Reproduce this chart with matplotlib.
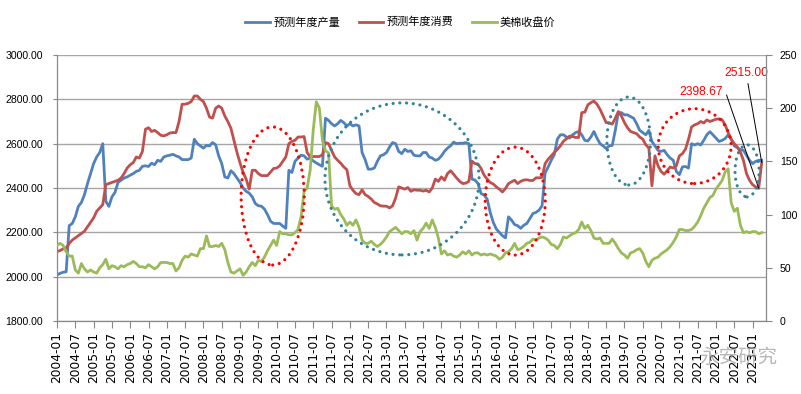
import numpy as np
import pandas as pd
import matplotlib
matplotlib.use("Agg")
import matplotlib.pyplot as plt
import matplotlib.transforms as mtransforms
from matplotlib import font_manager
from matplotlib.patches import Ellipse

# monthly values, 2004-01 .. 2023-04
production = [
    2008, 2015, 2020, 2022, 2230, 2240, 2270, 2317, 2335, 2370,
    2420, 2465, 2510, 2540, 2560, 2600, 2340, 2317, 2360, 2380,
    2425, 2435, 2445, 2450, 2458, 2465, 2475, 2480, 2498, 2500,
    2497, 2512, 2505, 2525, 2520, 2540, 2545, 2548, 2552,
    2545, 2540, 2528, 2528, 2528, 2535, 2620, 2600, 2590, 2580,
    2592, 2590, 2605, 2595, 2545, 2510, 2450, 2445, 2478, 2465,
    2445, 2425, 2400, 2385, 2377, 2360, 2330, 2320, 2318, 2305,
    2280, 2250, 2240, 2240, 2240, 2228, 2218, 2480,
    2470, 2520, 2535, 2548, 2545, 2530, 2535, 2522, 2513, 2505, 2498,
    2715, 2705, 2690, 2680, 2690, 2705, 2695, 2680, 2690, 2680, 2685, 2680,
    2560, 2528, 2485, 2485, 2490, 2520, 2545, 2550, 2560, 2585, 2605, 2600, 2565, 2555, 2575,
    2565, 2568, 2548, 2545, 2545, 2560, 2560, 2540, 2535, 2525, 2530,
    2545, 2565, 2580, 2590, 2607, 2600, 2602, 2602, 2605, 2600,
    2440, 2436, 2420, 2375, 2368, 2350, 2290, 2245, 2215, 2200, 2185, 2175, 2270, 2255, 2235, 2230,
    2218, 2232, 2240, 2262, 2285, 2290, 2300, 2320, 2468, 2495, 2525, 2550,
    2620, 2640, 2640, 2630, 2625, 2640, 2650, 2655, 2640, 2615, 2612, 2630,
    2655, 2625, 2600, 2590, 2578, 2590, 2592, 2660, 2740, 2740, 2730, 2730,
    2722, 2715, 2690, 2660, 2650, 2640, 2660, 2610, 2590, 2570, 2565, 2570,
    2550, 2535, 2525, 2475, 2460, 2495, 2497, 2490, 2600, 2594, 2600, 2594,
    2615, 2640, 2654, 2640, 2625, 2610, 2615, 2623, 2640, 2620, 2590, 2582,
    2573, 2570, 2548, 2525, 2510, 2520, 2525, 2525,
]

consumption = [
    2113, 2118, 2125, 2130, 2150, 2165, 2175, 2185, 2195, 2205,
    2225, 2245, 2265, 2295, 2310, 2325, 2415, 2420, 2425, 2430,
    2435, 2445, 2465, 2490, 2505, 2515, 2540, 2535, 2565, 2665,
    2672, 2655, 2660, 2650, 2638, 2635, 2640, 2648, 2650,
    2650, 2700, 2778, 2778, 2782, 2790, 2815, 2815, 2800, 2790,
    2760, 2720, 2715, 2760, 2770, 2760, 2725, 2700, 2670, 2615,
    2560, 2513, 2470, 2440, 2395, 2480, 2480, 2465, 2456, 2456,
    2456, 2472, 2488, 2490, 2500, 2520, 2540, 2600,
    2610, 2615, 2630, 2630, 2632, 2560, 2540, 2542, 2542, 2542, 2550,
    2605, 2600, 2570, 2540, 2525, 2512, 2495, 2483, 2410, 2390, 2375, 2370,
    2392, 2370, 2362, 2350, 2335, 2328, 2320, 2318, 2318, 2310, 2320, 2355, 2405, 2400, 2395,
    2402, 2385, 2392, 2390, 2390, 2386, 2390, 2382, 2400, 2440, 2430,
    2450, 2435, 2465, 2478, 2462, 2445, 2430, 2420, 2422, 2430,
    2521, 2510, 2508, 2488, 2458, 2440, 2425, 2418, 2405, 2395, 2382, 2398, 2420, 2428, 2435, 2420,
    2430, 2436, 2437, 2434, 2434, 2446, 2446, 2448, 2510, 2530, 2545, 2560,
    2574, 2590, 2611, 2622, 2634, 2632, 2628, 2628, 2740, 2742, 2775, 2785,
    2792, 2778, 2755, 2725, 2695, 2694, 2688, 2715, 2745, 2725, 2695, 2672,
    2655, 2650, 2645, 2630, 2620, 2595, 2580, 2410, 2545, 2500, 2475, 2462,
    2478, 2495, 2490, 2500, 2545, 2555, 2575, 2620, 2675, 2685, 2690, 2700,
    2693, 2707, 2700, 2705, 2710, 2712, 2708, 2685, 2650, 2620, 2600, 2585,
    2562, 2525, 2465, 2435, 2415, 2405, 2398.67, 2515.00,
]

cotton = [
    71, 73, 71, 65, 61, 61, 48, 45, 54, 49,
    46, 48, 46, 45, 50, 53, 58, 49, 52, 51,
    49, 52, 51, 53, 54, 56, 54, 51, 51, 50,
    53, 51, 49, 51, 55, 55, 55, 54, 54,
    47, 50, 57, 61, 60, 63, 62, 61, 68, 68,
    80, 70, 70, 71, 70, 73, 67, 55, 46, 45,
    47, 49, 43, 46, 51, 55, 52, 57, 56, 60,
    66, 71, 76, 71, 84, 82, 82, 81,
    81, 83, 86, 98, 122, 125, 142, 180, 206, 200, 170,
    160, 158, 108, 105, 106, 100, 96, 90, 93, 90, 95, 88,
    76, 73, 73, 75, 72, 70, 72, 75, 79, 84, 86, 88, 85, 82, 84,
    84, 82, 85, 76, 84, 87, 92, 87, 95, 88, 78,
    63, 66, 62, 63, 61, 60, 62, 65, 63, 66,
    62, 64, 64, 62, 63, 62, 63, 62, 61, 58, 60, 64, 65, 68, 73, 67,
    68, 70, 73, 74, 77, 76, 78, 79, 78, 76, 72, 71,
    68, 72, 79, 78, 80, 82, 83, 86, 93, 87, 90, 85,
    78, 77, 78, 73, 73, 73, 77, 73, 68, 64, 62, 59,
    64, 65, 67, 68, 64, 56, 51, 57, 59, 60, 63, 65,
    67, 70, 74, 79, 86, 86, 85, 85, 86, 89, 93, 99,
    106, 111, 116, 118, 124, 128, 132, 140, 143, 111, 103, 106,
    90, 83, 84, 83, 84, 84, 82, 83,
]

months = pd.date_range("2004-01-01", periods=len(production), freq="MS")
tick_labels = [d.strftime("%Y-%m") for d in months[::6]]

# dotted rings drawn on the chart: (month idx, value, width, height, colour)
RED = "#FF0000"
TEAL = "#31849B"
rings = [
    (70.7, 2364, 20.7, 623, RED),
    (113.1, 2441, 50.5, 686, TEAL),
    (150.2, 2341, 19.7, 487, RED),
    (187.4, 2612, 14.3, 397, TEAL),
    (209.0, 2589, 23.9, 338, RED),
    (226.2, 2477, 7.9, 235, TEAL),
]

installed = {f.name for f in font_manager.fontManager.ttflist}
has_narrow = "Liberation Sans Narrow" in installed
narrow = "Liberation Sans Narrow" if has_narrow else "Liberation Sans"
k = 1.0 if has_narrow else 0.82

plt.rcParams["font.family"] = ["Noto Sans CJK SC", "DejaVu Sans"]

fig = plt.figure(figsize=(8.01, 3.94), dpi=100)
ax = fig.add_axes([57 / 801, 1 - 321 / 394, (766 - 57) / 801, (321 - 55) / 394])
ax2 = ax.twinx()

x = np.arange(len(production))
l1, = ax.plot(x, production, color="#4F81BD", lw=2.0, label="预测年度产量", zorder=3)
l2, = ax.plot(x, consumption, color="#C0504D", lw=2.0, label="预测年度消费", zorder=3)
l3, = ax2.plot(x, cotton, color="#9BBB59", lw=2.0, label="美棉收盘价", zorder=3)

for cx, cy, w, h, c in rings:
    e = Ellipse((cx, cy), w, h, fill=False, edgecolor=c, lw=2.3,
                linestyle=(0, (0.01, 2.1)), zorder=6)
    e.set_capstyle("round")
    ax2.add_patch(e)
    e.set_transform(ax.transData)

ax.set_xlim(0, 232.4)
ax.set_ylim(1800, 3000)
ax2.set_ylim(0, 250)
ax.set_yticks(np.arange(1800, 3001, 200))
ax.set_yticklabels([f"{v:.2f}" for v in np.arange(1800, 3001, 200)])
ax2.set_yticks(np.arange(0, 251, 50))
ax.set_xticks(x[::6])
ax.set_xticklabels(tick_labels, rotation=90, fontsize=8.8, family="DejaVu Sans")
shift = mtransforms.ScaledTranslation(2.5 / 100, 0, fig.dpi_scale_trans)
for t in ax.get_xticklabels():
    t.set_transform(t.get_transform() + shift)

for t in ax.get_yticklabels():
    t.set_family(narrow)
    t.set_fontsize(9.2 * k)
for t in ax2.get_yticklabels():
    t.set_family(narrow)
    t.set_fontsize(9.2 * k)

ax.grid(axis="y", color="#A6A6A6", lw=1.0)
ax.set_axisbelow(True)
for a in (ax, ax2):
    a.spines["top"].set_visible(False)
    for s in ("left", "right", "bottom"):
        a.spines[s].set_color("#888888")
ax.tick_params(axis="y", length=3, color="#888888", pad=7)
ax.tick_params(axis="x", length=5, color="#888888", pad=3)
ax2.tick_params(axis="y", length=4, color="#888888", pad=6)

# value labels at the last two consumption points
ax.annotate(f"{consumption[-2]:.2f}", xy=(x[-2], consumption[-2]), xytext=(218.4, 2833),
            ha="right", va="center", color=RED, fontsize=10.5 * k, family=narrow,
            arrowprops=dict(arrowstyle="-", color="black", lw=0.7, shrinkA=1, shrinkB=0,
                            connectionstyle="angle,angleA=0,angleB=109,rad=0"),
            zorder=7)
ax.annotate(f"{consumption[-1]:.2f}", xy=(x[-1], consumption[-1]), xytext=(225.9, 2917),
            ha="center", va="center", color=RED, fontsize=10.5 * k, family=narrow,
            arrowprops=dict(arrowstyle="-", color="black", lw=0.7, shrinkA=1, shrinkB=0),
            zorder=7)

fig.legend(handles=[l1, l2, l3], loc="center", bbox_to_anchor=(0.5, 1 - 22 / 394),
           ncol=3, frameon=False, fontsize=8, handlelength=2.2, handletextpad=0.3,
           columnspacing=1.7)

fig.text(738 / 801, 1 - 357 / 394, "永安研究", ha="center", va="center",
         fontsize=14, color="#9A9A9A", alpha=0.7)

fig.savefig("out.png", dpi=100)
